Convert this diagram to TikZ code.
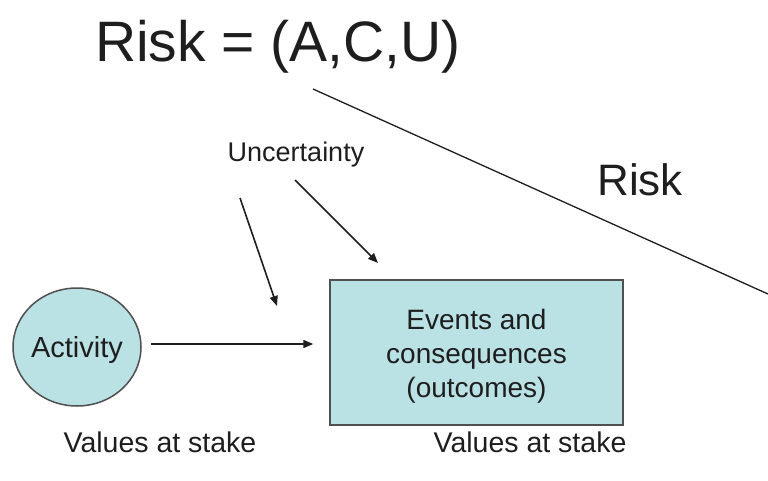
\documentclass[tikz,border=0pt]{standalone}
\usepackage{fontspec}
\setmainfont{Liberation Sans}
\usetikzlibrary{shapes.geometric,arrows.meta}
\definecolor{shade}{HTML}{BAE1E4}
\definecolor{edge}{HTML}{505050}
\definecolor{ink}{HTML}{1E1E1E}
\tikzset{
  pointer/.style={draw=ink, line width=1.6pt, -{Triangle[length=10pt,width=8pt]}},
  lbl/.style={text=ink, inner sep=0pt, align=center},
  shape box/.style={draw=edge, line width=1.5pt, fill=shade, inner sep=0pt}
}
\begin{document}
\begin{tikzpicture}[x=1pt,y=-1pt]
\useasboundingbox (0,0) rectangle (768,481);
% headline formula and diagonal separator
\node[lbl, font=\fontsize{57}{68}\selectfont] (title) at (278,47) {Risk = (A,C,U)};
\coordinate (d1) at (313,89);
\coordinate (d2) at (768,294);
\draw[draw=ink, line width=1.3pt] (d1) -- (d2);
\node[lbl, font=\fontsize{44}{52}\selectfont] (risk) at (640,180) {Risk};
% uncertainty and its two pointers
\node[lbl, font=\fontsize{27}{32}\selectfont] (unc) at (296,155) {Uncertainty};
\coordinate (u1) at (240,198);
\coordinate (u1e) at (277,306);
\coordinate (u2) at (295,180);
\coordinate (u2e) at (378,263);
\draw[pointer] (u1) -- (u1e);
\draw[pointer] (u2) -- (u2e);
% activity and outcome shapes
\node[shape box, ellipse, minimum width=128pt, minimum height=118pt] (act) at (77,347) {};
\node[lbl, font=\fontsize{29}{34}\selectfont] at ([yshift=-3pt]act.center) {Activity};
\node[shape box, rectangle, minimum width=293pt, minimum height=145pt] (box) at (476.5,352.5) {};
\node[lbl, font=\fontsize{28}{34}\selectfont] at ([yshift=-4pt]box.center) {Events and\\consequences\\(outcomes)};
\draw[pointer] ([xshift=9pt,yshift=3pt]act.east) -- ([xshift=-16pt,yshift=8.5pt]box.west);
% captions beneath
\node[lbl, font=\fontsize{28.5}{34}\selectfont] (v1) at (160,442) {Values at stake};
\node[lbl, font=\fontsize{28.5}{34}\selectfont] (v2) at (530,442) {Values at stake};
\end{tikzpicture}
\end{document}
